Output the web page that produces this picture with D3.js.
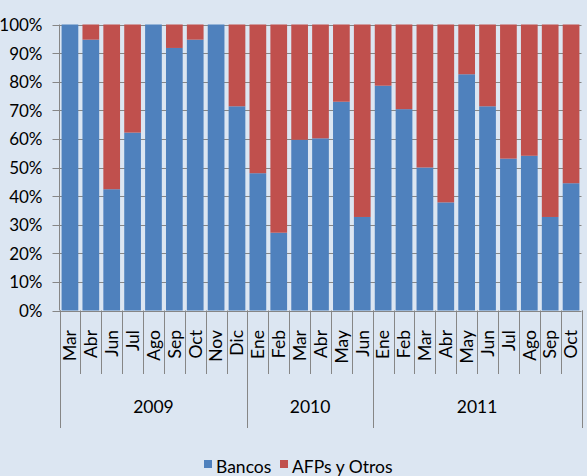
<!DOCTYPE html>
<html>
<head>
<meta charset="utf-8">
<script src="https://cdn.jsdelivr.net/npm/d3@7"></script>
<style>
  html, body { margin: 0; padding: 0; background: #dce6f2; }
  svg text { font-family: Lato, "Open Sans", sans-serif; fill: #000; }
</style>
</head>
<body>
<svg id="chart" width="587" height="476"></svg>
<script>
// Data
const months = ['Mar', 'Abr', 'Jun', 'Jul', 'Ago', 'Sep', 'Oct', 'Nov', 'Dic',
                'Ene', 'Feb', 'Mar', 'Abr', 'May', 'Jun',
                'Ene', 'Feb', 'Mar', 'Abr', 'May', 'Jun', 'Jul', 'Ago', 'Sep', 'Oct'];
const years = ['2009', '2010', '2011'];
const monthsPerYear = [9, 6, 10];
const bancos = [100, 94.7, 42.4, 62.2, 100, 91.8, 94.7, 100, 71.4,
                48.0, 27.2, 59.7, 60.2, 73.0, 32.7,
                78.6, 70.4, 50.0, 37.8, 82.6, 71.4, 53.1, 54.1, 32.7, 44.5];
const afps = [0, 5.3, 57.6, 37.8, 0, 8.2, 5.3, 0, 28.6,
              52.0, 72.8, 40.3, 39.8, 27.0, 67.3,
              21.4, 29.6, 50.0, 62.2, 17.4, 28.6, 46.9, 45.9, 67.3, 55.5];
const seriesNames = ['Bancos', 'AFPs y Otros'];
const yTicks = [0, 10, 20, 30, 40, 50, 60, 70, 80, 90, 100];

const colors = ['#4f81bd', '#c0504d'];
const gridColor = '#868686';
const fontSize = 17.5;

const svg = d3.select('#chart');
const plot = { left: 59.5, right: 581.5, top: 24.5, bottom: 310.5 };

// one key per bar so repeated month names stay separate
const keys = months.map((m, i) => i);
const x = d3.scaleBand().domain(keys).range([plot.left, plot.right]).paddingInner(0.2).paddingOuter(0.1);
const y = d3.scaleLinear().domain([0, 100]).range([plot.bottom, plot.top]);
const step = (plot.right - plot.left) / months.length;
const edge = i => Math.round(plot.left + i * step) + 0.5;

// Gridlines
svg.append('g').selectAll('line')
  .data(yTicks)
  .join('line')
  .attr('x1', plot.left - 7).attr('x2', plot.right)
  .attr('y1', d => Math.round(y(d)) + 0.5).attr('y2', d => Math.round(y(d)) + 0.5)
  .attr('stroke', gridColor).attr('stroke-width', 1);

// Stacked bars
const rows = keys.map(i => ({ key: i, Bancos: bancos[i], 'AFPs y Otros': afps[i] }));
const stacked = d3.stack().keys(seriesNames)(rows);

svg.append('g').selectAll('g')
  .data(stacked)
  .join('g')
  .attr('fill', (d, i) => colors[i])
  .selectAll('rect')
  .data(d => d)
  .join('rect')
  .attr('x', d => x(d.data.key))
  .attr('width', x.bandwidth())
  .attr('y', d => y(d[1]))
  .attr('height', d => y(d[0]) - y(d[1]));

// Y axis line
svg.append('line')
  .attr('x1', plot.left).attr('x2', plot.left)
  .attr('y1', plot.top).attr('y2', plot.bottom)
  .attr('stroke', gridColor);

// Y tick labels
svg.append('g').selectAll('text')
  .data(yTicks)
  .join('text')
  .attr('x', 42.5)
  .attr('y', d => y(d))
  .attr('dy', '0.38em')
  .attr('text-anchor', 'end')
  .attr('font-size', 17)
  .text(d => d + '%');

// Month tick separators
svg.append('g').selectAll('line')
  .data(d3.range(months.length + 1))
  .join('line')
  .attr('x1', edge).attr('x2', edge)
  .attr('y1', plot.bottom).attr('y2', 374)
  .attr('stroke', gridColor);

// Year separators
const yearBounds = [0];
monthsPerYear.forEach(n => yearBounds.push(yearBounds[yearBounds.length - 1] + n));
svg.append('g').selectAll('line')
  .data(yearBounds)
  .join('line')
  .attr('x1', edge).attr('x2', edge)
  .attr('y1', plot.bottom).attr('y2', 428)
  .attr('stroke', gridColor);

// Month labels (rotated)
svg.append('g').selectAll('text')
  .data(keys)
  .join('text')
  .attr('transform', i => `translate(${x(i) + x.bandwidth() / 2},330) rotate(-90)`)
  .attr('dy', '0.36em')
  .attr('text-anchor', 'end')
  .attr('font-size', fontSize)
  .text(i => months[i]);

// Year labels
svg.append('g').selectAll('text')
  .data(years)
  .join('text')
  .attr('x', (d, i) => plot.left + (yearBounds[i] + yearBounds[i + 1]) / 2 * step)
  .attr('y', 413)
  .attr('text-anchor', 'middle')
  .attr('font-size', fontSize)
  .text(d => d);

// Legend
const legendX = [204, 280];
const legend = svg.append('g').selectAll('g')
  .data(seriesNames)
  .join('g')
  .attr('transform', (d, i) => `translate(${legendX[i]},460)`);
legend.append('rect')
  .attr('width', 8).attr('height', 8)
  .attr('fill', (d, i) => colors[i]);
legend.append('text')
  .attr('x', 12).attr('y', 12.5)
  .attr('font-size', fontSize)
  .text(d => d);
</script>
</body>
</html>
